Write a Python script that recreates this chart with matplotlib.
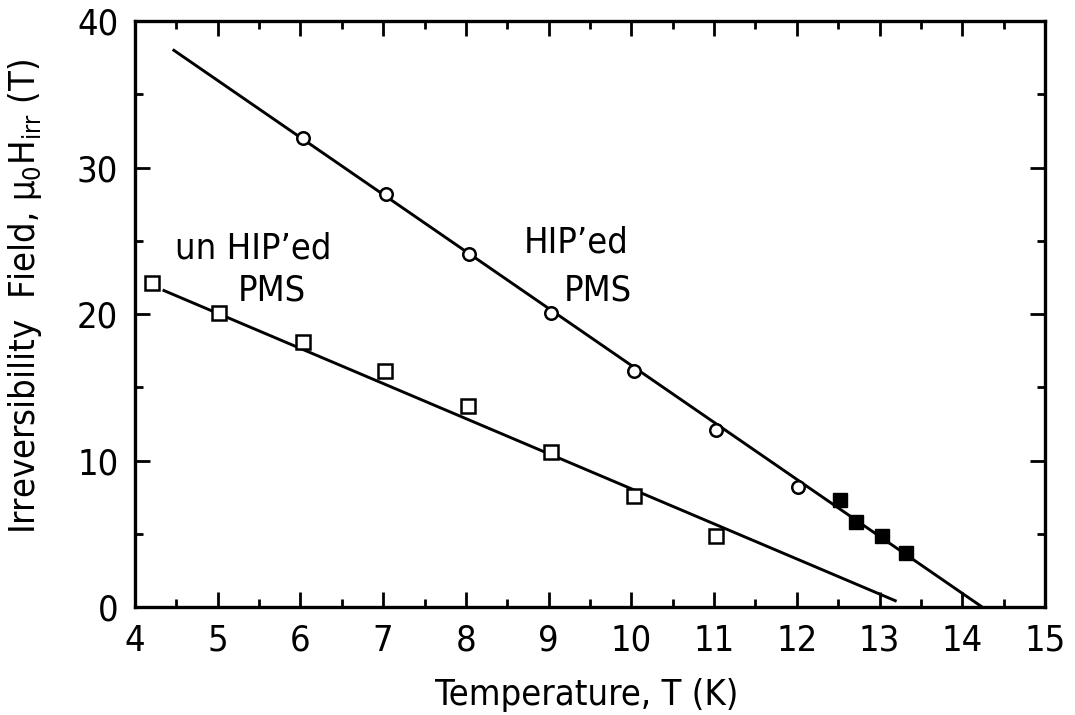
import matplotlib
matplotlib.use("Agg")
import matplotlib.pyplot as plt
from matplotlib.ticker import MultipleLocator

plt.rcParams['font.family'] = ['DejaVu Sans']
plt.rcParams['font.stretch'] = 'condensed'
plt.rcParams['mathtext.fontset'] = 'custom'
plt.rcParams['mathtext.rm'] = 'DejaVu Sans:stretch=condensed'
plt.rcParams['mathtext.it'] = 'DejaVu Sans:stretch=condensed'

# HIP'ed PMS (open circles)
hip_T = [6.03, 7.03, 8.04, 9.03, 10.03, 11.02, 12.01]
hip_H = [32.0, 28.2, 24.1, 20.1, 16.1, 12.1, 8.2]
# HIP'ed PMS (filled squares)
hip2_T = [12.52, 12.71, 13.03, 13.32]
hip2_H = [7.3, 5.8, 4.85, 3.7]
# unHIP'ed PMS (open squares)
unhip_T = [4.2, 5.01, 6.03, 7.02, 8.03, 9.03, 10.03, 11.02]
unhip_H = [22.1, 20.1, 18.1, 16.1, 13.7, 10.6, 7.6, 4.85]

# straight line fits, end points
hip_fit_T = [4.47, 14.24]
hip_fit_H = [38.0, 0.0]
unhip_fit_T = [4.35, 13.19]
unhip_fit_H = [21.6, 0.43]

fig = plt.figure(figsize=(10.75, 7.15), dpi=100)
ax = fig.add_axes([135 / 1075, 1 - 607 / 715, 910 / 1075, 586 / 715])

ax.plot(hip_fit_T, hip_fit_H, color='black', lw=2.1)
ax.plot(unhip_fit_T, unhip_fit_H, color='black', lw=2.1)
ax.plot(hip_T, hip_H, 'o', ms=9, mfc='white', mec='black', mew=1.8)
ax.plot(unhip_T, unhip_H, 's', ms=9.5, mfc='white', mec='black', mew=1.8)
ax.plot(hip2_T, hip2_H, 's', ms=10.5, mfc='black', mec='black')

ax.set_xlim(4, 15)
ax.set_ylim(0, 40)
ax.xaxis.set_major_locator(MultipleLocator(1))
ax.xaxis.set_minor_locator(MultipleLocator(0.5))
ax.yaxis.set_major_locator(MultipleLocator(10))
ax.yaxis.set_minor_locator(MultipleLocator(5))
ax.tick_params(which='both', direction='in', top=True, right=True,
               width=2.0, labelsize=26)
ax.tick_params(which='major', length=11)
ax.tick_params(which='minor', length=6)
ax.tick_params(axis='x', pad=12)
ax.tick_params(axis='y', pad=12)
for s in ax.spines.values():
    s.set_linewidth(2.4)

# series labels
ax.text(5.43, 24.5, "un HIP\u2019ed", fontsize=26, ha='center', va='center')
ax.text(5.66, 21.6, "PMS", fontsize=26, ha='center', va='center')
ax.text(9.33, 24.85, "HIP\u2019ed", fontsize=26, ha='center', va='center')
ax.text(9.59, 21.6, "PMS", fontsize=26, ha='center', va='center')

fig.text(587 / 1075, 1 - 695 / 715, "Temperature, T (K)", fontsize=26,
         ha='center', va='center')
fig.text(25 / 1075, 1 - 297 / 715, r"Irreversibility  Field, $\mu_0$H$_{irr}$ (T)",
         fontsize=26, ha='center', va='center', rotation=90)

fig.savefig("out.png", dpi=100)
